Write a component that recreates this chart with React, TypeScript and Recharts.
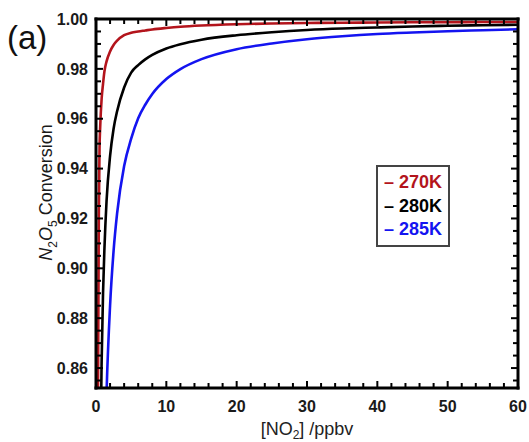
import { LineChart, Line, XAxis, YAxis, Legend } from 'recharts';

// [NO2] in ppbv
const nox = [0.2, 0.3, 0.4, 0.5, 0.6, 0.8, 1, 1.2, 1.5, 2, 2.5, 3, 4, 5, 6, 7, 8, 10, 12, 15, 20, 25, 30, 35, 40, 45, 50, 55, 60];

// N2O5 conversion at each temperature
const conv270 = [0.80, 0.86, 0.92, 0.948, 0.957, 0.968, 0.974, 0.979, 0.983, 0.987, 0.9896, 0.9913, 0.9935, 0.9945, 0.995, 0.9954, 0.9958, 0.9964, 0.9969, 0.9974, 0.9979, 0.9982, 0.9984, 0.9985, 0.9986, 0.9987, 0.9987, 0.9988, 0.9988];
const conv280 = [null, null, null, 0.78, 0.817, 0.8625, 0.89, 0.908, 0.927, 0.945, 0.956, 0.963, 0.9725, 0.9785, 0.9815, 0.9838, 0.9856, 0.9882, 0.9899, 0.9917, 0.9935, 0.9947, 0.9956, 0.9962, 0.9966, 0.997, 0.9973, 0.9975, 0.9977];
const conv285 = [null, null, null, null, null, null, 0.783, 0.815, 0.85, 0.885, 0.907, 0.922, 0.941, 0.952, 0.9602, 0.9656, 0.9699, 0.9759, 0.9799, 0.9839, 0.9879, 0.9902, 0.9919, 0.9931, 0.994, 0.9946, 0.9951, 0.9955, 0.9959];

const series = [
  { key: 't270', name: '270K', color: '#b3141c', values: conv270 },
  { key: 't280', name: '280K', color: '#000000', values: conv280 },
  { key: 't285', name: '285K', color: '#1414f0', values: conv285 },
];

const xMajor = [0, 10, 20, 30, 40, 50, 60];
const xMinor = [2, 4, 6, 8, 12, 14, 16, 18, 22, 24, 26, 28, 32, 34, 36, 38, 42, 44, 46, 48, 52, 54, 56, 58];
const yMajor = [0.86, 0.88, 0.9, 0.92, 0.94, 0.96, 0.98, 1.0];
const yMinor = [0.855, 0.865, 0.87, 0.875, 0.885, 0.89, 0.895, 0.905, 0.91, 0.915, 0.925, 0.93, 0.935, 0.945, 0.95, 0.955, 0.965, 0.97, 0.975, 0.985, 0.99, 0.995];

const data = nox.map((x, i) => {
  const row: Record<string, number | null> = { x };
  series.forEach(s => { row[s.key] = s.values[i]; });
  return row;
});

const FONT = '"Liberation Sans", Arial, sans-serif';
const xDomain = [0, 60];
const yDomain = [0.852, 1.0];
const frame = { stroke: '#000', strokeWidth: 3, strokeLinecap: 'square' as const };
const majorTick = { stroke: '#000', strokeWidth: 2 };
const minorTick = { stroke: '#000', strokeWidth: 2 };
const tickText = { fill: '#1a1a1a', fontSize: 16, fontWeight: 'bold', fontFamily: FONT };
// tick marks only, no label
const NoLabel = () => <g />;

const XTitle = (props: any) => {
  const vb = props.viewBox;
  const cx = vb.x + vb.width / 2;
  return (
    <text x={cx} y={435} textAnchor="middle" fontSize={18} fontFamily={FONT} fill="#222">
      [NO<tspan fontSize={12} dy={4}>2</tspan><tspan dy={-4}>] /ppbv</tspan>
    </text>
  );
};

const YTitle = (props: any) => {
  const vb = props.viewBox;
  const cy = vb.y + vb.height / 2 - 11;
  return (
    <g>
      <text x={7} y={49} fontSize={33} fontFamily={FONT} fill="#111">(a)</text>
      <text x={52} y={cy} transform={`rotate(-90, 52, ${cy})`} textAnchor="middle" fontSize={18} fontFamily={FONT} fill="#1a1a1a">
        <tspan fontStyle="italic">N</tspan>
        <tspan fontSize={12} dy={5}>2</tspan>
        <tspan fontStyle="italic" dy={-5}>O</tspan>
        <tspan fontSize={12} dy={5}>5</tspan>
        <tspan dy={-5}> Conversion</tspan>
      </text>
    </g>
  );
};

const LegendBox = () => (
  <div style={{ border: '2px solid #444', padding: '4px 6px 3px 6px', background: '#fff', fontFamily: FONT, fontWeight: 'bold', fontSize: 18, lineHeight: '23.5px', width: 58 }}>
    {series.map(s => (
      <div key={s.key} style={{ color: s.color, whiteSpace: 'nowrap' }}>– {s.name}</div>
    ))}
  </div>
);

export default function App() {
  return (
    <div style={{ position: 'absolute', left: 0, top: 0, width: 529, height: 442, background: '#fff' }}>
      <LineChart width={529} height={442} data={data} margin={{ top: 19, right: 11, left: 0, bottom: 0 }}>
        {/* inner tick marks on all four sides, plus top and right frame */}
        <XAxis xAxisId="bMajor" type="number" dataKey="x" domain={xDomain} allowDataOverflow orientation="bottom" mirror height={1} ticks={xMajor} interval={0} tick={NoLabel} tickSize={7} tickLine={majorTick} axisLine={false} />
        <XAxis xAxisId="bMinor" type="number" dataKey="x" domain={xDomain} allowDataOverflow orientation="bottom" mirror height={1} ticks={xMinor} interval={0} tick={NoLabel} tickSize={4} tickLine={minorTick} axisLine={false} />
        <XAxis xAxisId="tMajor" type="number" dataKey="x" domain={xDomain} allowDataOverflow orientation="top" mirror height={1} ticks={xMajor} interval={0} tick={NoLabel} tickSize={7} tickLine={majorTick} axisLine={frame} />
        <XAxis xAxisId="tMinor" type="number" dataKey="x" domain={xDomain} allowDataOverflow orientation="top" mirror height={1} ticks={xMinor} interval={0} tick={NoLabel} tickSize={4} tickLine={minorTick} axisLine={false} />
        <YAxis yAxisId="lMajor" type="number" domain={yDomain} allowDataOverflow orientation="left" mirror width={1} ticks={yMajor} interval={0} tick={NoLabel} tickSize={7} tickLine={majorTick} axisLine={false} />
        <YAxis yAxisId="lMinor" type="number" domain={yDomain} allowDataOverflow orientation="left" mirror width={1} ticks={yMinor} interval={0} tick={NoLabel} tickSize={4} tickLine={minorTick} axisLine={false} />
        <YAxis yAxisId="rMajor" type="number" domain={yDomain} allowDataOverflow orientation="right" mirror width={1} ticks={yMajor} interval={0} tick={NoLabel} tickSize={7} tickLine={majorTick} axisLine={frame} />
        <YAxis yAxisId="rMinor" type="number" domain={yDomain} allowDataOverflow orientation="right" mirror width={1} ticks={yMinor} interval={0} tick={NoLabel} tickSize={4} tickLine={minorTick} axisLine={false} />

        <XAxis xAxisId="main" type="number" dataKey="x" domain={xDomain} allowDataOverflow ticks={xMajor} interval={0} height={54} tickSize={0} tickMargin={13} tickLine={false} axisLine={frame} tick={tickText} label={{ content: XTitle }} />
        <YAxis yAxisId="main" type="number" domain={yDomain} allowDataOverflow ticks={yMajor} interval={0} width={96} tickSize={0} tickMargin={8} tickLine={false} axisLine={frame} tick={tickText} tickFormatter={(v: number) => v.toFixed(2)} label={{ content: YTitle }} />

        {series.map(s => (
          <Line key={s.key} xAxisId="main" yAxisId="main" type="monotone" dataKey={s.key} name={s.name} stroke={s.color} strokeWidth={2.6} dot={false} activeDot={false} isAnimationActive={false} connectNulls={false} />
        ))}

        <Legend layout="vertical" verticalAlign="middle" align="center" content={LegendBox} wrapperStyle={{ position: 'absolute', left: 376, top: 165, width: 'auto' }} />
      </LineChart>
    </div>
  );
}
